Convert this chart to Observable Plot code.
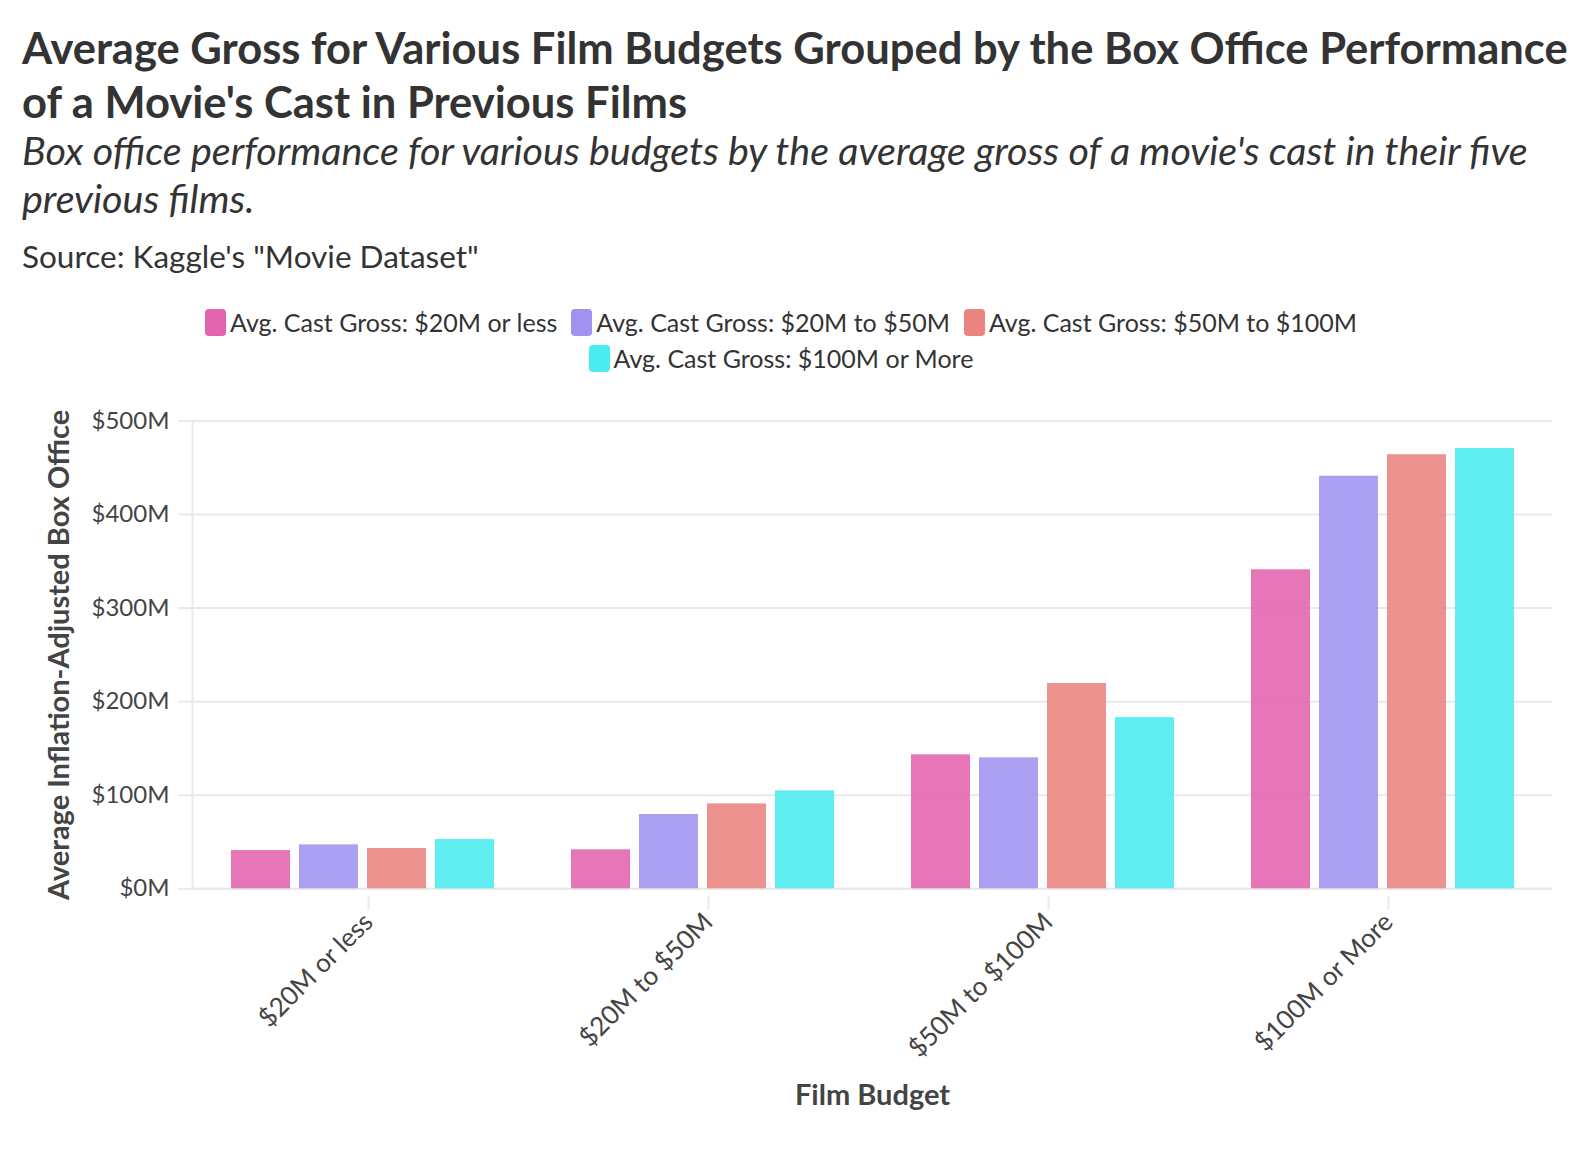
<!DOCTYPE html>
<html>
<head>
<meta charset="utf-8">
<script src="https://cdn.jsdelivr.net/npm/d3@7"></script>
<script src="https://cdn.jsdelivr.net/npm/@observablehq/plot@0.6"></script>
<style>
  html, body { margin: 0; padding: 0; background: #fff; }
  body { width: 1592px; height: 1150px; position: relative; overflow: hidden; font-family: Lato, "Open Sans", sans-serif; color: #333; }
  .hline { position: absolute; left: 22px; white-space: nowrap; }
  #t1, #t2 { font-weight: 700; font-size: 38px; }
  #t1 { top: 21px; } #t2 { top: 75px; }
  #s1, #s2 { font-style: italic; font-size: 34px; }
  #s1 { top: 126px; } #s2 { top: 174px; }
  #src { top: 237px; font-size: 29px; }
  #legend { position: absolute; left: 0; width: 1562px; top: 304px; }
  .lrow { display: flex; justify-content: center; gap: 14px; height: 36px; align-items: center; }
  .litem { display: flex; align-items: center; gap: 4px; font-size: 25px; color: #333; }
  .sw { width: 21px; height: 27px; border-radius: 4px; }
  #chart { position: absolute; left: 0; top: 380px; }
  #chart svg { font-family: Lato, "Open Sans", sans-serif; overflow: visible; }
  #chart g[aria-label="fx-axis label"] text, #chart g[aria-label="y-axis label"] text { font-weight: 700; fill: #444; font-size: 29px; }
</style>
</head>
<body>
<div id="t1" class="hline"></div>
<div id="t2" class="hline"></div>
<div id="s1" class="hline"></div>
<div id="s2" class="hline"></div>
<div id="src" class="hline"></div>
<div id="legend"></div>
<div id="chart"></div>
<script>
// ---- Data (values in $ millions) ----
const budgets = ["$20M or less", "$20M to $50M", "$50M to $100M", "$100M or More"];
const castGroups = [
  "Avg. Cast Gross: $20M or less",
  "Avg. Cast Gross: $20M to $50M",
  "Avg. Cast Gross: $50M to $100M",
  "Avg. Cast Gross: $100M or More"
];
const castUnder20 = [40.9, 41.7, 143.2, 341.0];
const cast20to50 = [47.0, 79.4, 140.0, 441.0];
const cast50to100 = [43.1, 90.8, 219.4, 464.0];
const cast100plus = [52.7, 104.7, 183.0, 470.6];
const yTicks = [0, 100, 200, 300, 400, 500];
const colors = ["#e463ae", "#a093f0", "#ea8480", "#4aecf0"];

const titleLines = ["Average Gross for Various Film Budgets Grouped by the Box Office Performance", "of a Movie's Cast in Previous Films"];
const subtitleLines = ["Box office performance for various budgets by the average gross of a movie's cast in their five", "previous films."];
const source = "Source: Kaggle's \"Movie Dataset\"";

// ---- Headers ----
document.getElementById("t1").textContent = titleLines[0];
document.getElementById("t2").textContent = titleLines[1];
document.getElementById("s1").textContent = subtitleLines[0];
document.getElementById("s2").textContent = subtitleLines[1];
document.getElementById("src").textContent = source;

function fit(ids, target) {
  const el = document.getElementById(ids[0]);
  const w = el.getBoundingClientRect().width;
  const fs = parseFloat(getComputedStyle(el).fontSize) * target / w;
  ids.forEach(id => document.getElementById(id).style.fontSize = fs + "px");
}
fit(["t1", "t2"], 1546);
fit(["s1", "s2"], 1506);
fit(["src"], 457);

// ---- Legend ----
const legend = document.getElementById("legend");
[[0, 1, 2], [3]].forEach(rowIdx => {
  const row = document.createElement("div");
  row.className = "lrow";
  rowIdx.forEach(i => {
    const item = document.createElement("div");
    item.className = "litem";
    const sw = document.createElement("div");
    sw.className = "sw";
    sw.style.background = colors[i];
    const lab = document.createElement("span");
    lab.textContent = castGroups[i];
    item.appendChild(sw); item.appendChild(lab);
    row.appendChild(item);
  });
  legend.appendChild(row);
});

// ---- Chart ----
const series = [castUnder20, cast20to50, cast50to100, cast100plus];
const data = budgets.flatMap((b, i) => castGroups.map((c, j) => ({budget: b, cast: c, value: series[j][i]})));

const chart = Plot.plot({
  width: 1592,
  height: 770,
  marginTop: 40.5,
  marginBottom: 261.7,
  marginLeft: 192,
  marginRight: 40,
  style: {fontSize: "24px", color: "#444", background: "transparent"},
  fx: {domain: budgets, padding: 0},
  x: {domain: castGroups, paddingInner: 0.137, paddingOuter: 0.568, axis: null},
  y: {domain: [0, 500]},
  color: {domain: castGroups, range: colors},
  marks: [
    Plot.gridY(yTicks, {stroke: "#e9e9e9", strokeWidth: 2, strokeOpacity: 1}),
    Plot.frame({anchor: "left", facetAnchor: "left", stroke: "#e9e9e9", strokeWidth: 2}),
    Plot.ruleY([0], {stroke: "#e9e9e9", strokeWidth: 2}),
    Plot.barY(data, {fx: "budget", x: "cast", y: "value", fill: "cast", fillOpacity: 0.88}),
    Plot.axisY({
      ticks: yTicks, tickFormat: d => `$${d}M`, tickSize: 14, tickPadding: 9,
      stroke: "#e9e9e9", strokeWidth: 2, strokeOpacity: 1, fill: "#444",
      label: "Average Inflation-Adjusted Box Office", labelAnchor: "center", labelArrow: "none", labelOffset: 144
    }),
    Plot.axisFx({
      anchor: "bottom", tickRotate: -45, tickSize: 13, tickPadding: 8,
      stroke: "#e9e9e9", strokeWidth: 2, strokeOpacity: 1, fill: "#444",
      fontSize: 26, textStroke: "none", dx: 6, dy: 8,
      label: "Film Budget", labelAnchor: "center", labelArrow: "none", labelOffset: 216
    })
  ]
});
document.getElementById("chart").appendChild(chart);
</script>
</body>
</html>
